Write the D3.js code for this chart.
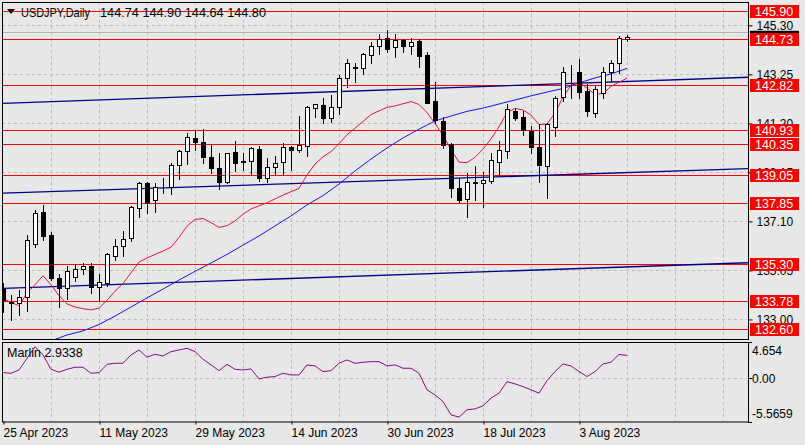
<!DOCTYPE html>
<html>
<head>
<meta charset="utf-8">
<script src="https://cdn.jsdelivr.net/npm/d3@7"></script>
<style>
  body { margin: 0; background: #e8e8e8; }
  text { font-family: "Liberation Sans", Arial, sans-serif; }
</style>
</head>
<body>
<div id="chart"></div>
<script>
// bar dates (index of the bar under each date label)
const dateIdx = [0, 12, 24, 36, 48, 60, 72];
const dateLabels = ["25 Apr 2023", "11 May 2023", "29 May 2023", "14 Jun 2023", "30 Jun 2023", "18 Jul 2023", "3 Aug 2023"];

const priceTicks = [145.30, 143.25, 141.20, 139.15, 137.10, 135.05, 133.00];
const levels = [145.90, 144.73, 142.82, 140.93, 140.35, 139.05, 137.85, 135.30, 133.78, 132.60];
const bidPrice = 144.80;
const askLine = 145.02;

// navy trend lines, price at bar 0 and at the right edge
const trendIdx = [0, 93.125];
const trendLines = [[142.04, 143.13], [138.28, 139.31], [134.30, 135.37]];

// daily candles
const opens = [134.27,133.75,133.68,133.94,136.14,137.48,136.53,134.72,134.30,134.79,135.10,135.25,134.34,134.51,135.67,136.08,136.39,137.65,138.69,137.99,
  138.58,138.55,139.46,140.06,140.58,140.41,139.81,139.32,138.76,139.99,139.60,139.64,140.12,138.90,139.36,139.60,140.20,140.09,140.25,141.83,
  141.97,141.44,141.87,143.08,143.52,143.50,144.06,144.45,144.76,144.38,144.69,144.45,144.66,144.06,142.15,141.31,140.34,138.49,138.03,138.72,
  138.70,138.80,139.60,140.06,141.73,141.45,140.90,140.23,139.43,141.06,142.29,143.32,143.34,142.57,141.62,142.46,143.36,143.71,144.74];
const highs = [134.52,134.02,134.23,136.53,137.58,137.79,136.67,134.90,135.25,135.31,135.35,135.35,134.90,135.77,136.35,136.70,137.75,138.76,138.76,138.69,
  138.90,139.53,140.09,140.79,140.92,140.95,140.34,139.95,139.97,140.46,139.95,140.23,140.25,139.74,139.84,140.37,140.25,141.51,141.93,142.01,
  142.25,142.39,143.22,143.88,143.74,144.16,144.62,144.94,145.11,144.94,144.72,144.76,144.72,144.20,142.94,141.48,140.39,138.93,139.14,139.42,
  139.18,139.97,140.48,142.01,141.83,141.73,141.09,141.17,141.20,142.35,143.57,143.65,143.88,142.85,142.76,143.57,143.85,144.85,144.90];
const lows = [133.31,132.98,133.19,133.36,136.05,136.32,134.65,133.51,133.86,134.62,134.90,134.12,133.78,134.40,135.49,135.67,136.29,137.30,137.44,137.51,
  138.28,138.24,138.86,139.49,140.09,139.56,139.14,138.44,138.69,139.22,139.25,139.04,138.80,138.76,139.04,139.04,139.25,140.00,139.84,141.45,
  141.23,141.27,141.59,142.73,142.94,143.27,143.74,144.10,144.20,143.99,144.20,144.09,143.57,142.05,141.20,140.16,138.13,137.93,137.27,138.00,
  137.72,138.72,139.08,139.74,141.35,140.71,139.97,138.76,138.07,140.67,142.15,142.25,142.25,141.51,141.48,142.25,142.99,143.29,144.64];
const closes = [133.81,133.68,133.93,136.32,137.46,136.50,134.72,134.30,135.04,135.10,135.24,134.34,134.55,135.74,136.08,136.35,137.69,138.69,137.88,138.55,
  138.60,139.46,140.04,140.62,140.43,139.78,139.32,138.76,139.95,139.56,139.62,140.16,138.90,139.36,139.56,140.20,140.09,140.30,141.87,142.00,
  141.44,141.87,143.08,143.71,143.54,144.10,144.45,144.72,144.30,144.69,144.45,144.62,144.02,142.07,141.34,140.30,138.49,138.00,138.76,138.74,
  138.83,139.67,140.09,141.79,141.44,140.92,140.23,139.46,141.17,142.25,143.34,143.30,142.52,141.73,142.63,143.36,143.74,144.76,144.80];

// fast moving average (red), one value per bar
const redMA = [133.90,133.70,133.58,134.10,134.45,134.83,134.45,134.00,133.65,133.52,133.45,133.40,133.47,133.80,134.18,134.50,134.95,135.40,135.57,135.72,
  135.86,136.02,136.43,136.90,137.18,137.22,137.05,136.85,136.92,137.12,137.40,137.62,137.75,137.88,138.04,138.20,138.34,138.48,139.04,139.50,
  139.80,140.02,140.35,140.72,141.00,141.28,141.57,141.72,141.87,141.93,142.02,142.11,141.99,141.65,141.20,140.70,140.10,139.58,139.56,139.78,
  140.12,140.55,141.06,141.66,141.82,141.76,141.55,141.15,141.17,141.63,142.30,142.78,142.94,142.67,142.42,142.45,142.75,142.92,143.09];

// slow moving average (blue), every second bar from bar 4
const blueStart = 4;
const blueMA = [131.93,132.10,132.35,132.52,132.79,133.14,133.52,133.90,134.27,134.65,135.01,135.36,135.72,136.11,136.49,136.91,137.33,137.79,138.18,
  138.66,139.21,139.71,140.17,140.59,140.96,141.30,141.51,141.70,141.84,142.01,142.18,142.35,142.51,142.66,142.89,143.10,143.27,143.50];

// Marlin oscillator, one value per bar
const marlin = [0.72,0.64,1.06,2.56,4.05,2.99,1.15,0.77,1.15,1.41,1.41,0.64,0.72,1.79,1.92,1.92,2.99,3.63,2.69,3.08,
  2.86,3.41,3.63,3.85,3.41,2.44,1.71,0.97,1.79,1.15,1.06,1.19,-0.09,0.13,0.21,0.64,0.42,0.42,1.71,1.58,
  0.85,0.97,1.92,2.35,1.92,2.05,2.13,2.13,1.58,1.71,1.28,1.28,0.64,-1.50,-2.14,-3.00,-4.71,-5.00,-4.06,-3.94,
  -3.55,-2.56,-1.92,-0.44,-0.73,-1.08,-1.50,-1.92,-0.31,0.85,1.83,1.58,0.85,0.21,0.85,1.83,2.05,3.05,2.93];
const marlinLast = "2.9338";
const marlinMax = 4.654, marlinMin = -5.5659;

const W = 805, H = 445;
const left = 2, right = 748;
const mainTop = 2, mainBottom = 339;
const indTop = 342, indBottom = 421.5;

const svg = d3.select("#chart").append("svg")
  .attr("width", W).attr("height", H)
  .style("background", "#e8e8e8");

const x = d3.scaleLinear().domain([0, 93.125]).range([3, 748]);
const y = d3.scaleLinear().domain([132.60, 145.90]).range([329, 11]);
const yi = d3.scaleLinear().domain([marlinMin, marlinMax]).range([indBottom, indTop]);

const px = v => Math.round(v) + 0.5;

const defs = svg.append("defs");
defs.append("clipPath").attr("id", "clipMain").append("rect")
  .attr("x", left).attr("y", mainTop).attr("width", right - left).attr("height", mainBottom - mainTop);
defs.append("clipPath").attr("id", "clipInd").append("rect")
  .attr("x", left).attr("y", indTop).attr("width", right - left).attr("height", indBottom - indTop);

const gridCol = "#bdbdbd";
const vGrid = d3.range(6, 93, 6);

// main panel
const main = svg.append("g").attr("clip-path", "url(#clipMain)");

main.selectAll(".vg").data(vGrid).enter().append("line")
  .attr("x1", d => px(x(d))).attr("x2", d => px(x(d)))
  .attr("y1", mainTop).attr("y2", mainBottom)
  .attr("stroke", gridCol).attr("stroke-dasharray", "3,3");
main.selectAll(".hg").data(priceTicks).enter().append("line")
  .attr("x1", left).attr("x2", right)
  .attr("y1", d => px(y(d))).attr("y2", d => px(y(d)))
  .attr("stroke", gridCol).attr("stroke-dasharray", "3,3");

main.append("line")
  .attr("x1", left).attr("x2", right)
  .attr("y1", px(y(askLine))).attr("y2", px(y(askLine)))
  .attr("stroke", "#b4b4b4");

main.selectAll(".lvl").data(levels).enter().append("line")
  .attr("x1", left).attr("x2", right)
  .attr("y1", d => px(y(d))).attr("y2", d => px(y(d)))
  .attr("stroke", "#ff0000").attr("stroke-width", 1);

main.selectAll(".trend").data(trendLines).enter().append("line")
  .attr("x1", x(trendIdx[0])).attr("x2", x(trendIdx[1]))
  .attr("y1", d => y(d[0])).attr("y2", d => y(d[1]))
  .attr("stroke", "#000088").attr("stroke-width", 1.3);

const maLine = d3.line().x(d => x(d[0])).y(d => y(d[1]));
main.append("path")
  .datum(blueMA.map((v, k) => [blueStart + 2 * k, v]))
  .attr("d", maLine).attr("fill", "none")
  .attr("stroke", "#1414ff").attr("stroke-width", 1);
main.append("path")
  .datum(redMA.map((v, i) => [i, v]))
  .attr("d", maLine).attr("fill", "none")
  .attr("stroke", "#e8143c").attr("stroke-width", 1);

// candles
const bars = opens.map((o, i) => ({ i, o, h: highs[i], l: lows[i], c: closes[i] }));
const candle = main.selectAll(".candle").data(bars).enter().append("g")
  .attr("shape-rendering", "crispEdges");
candle.append("line")
  .attr("x1", d => px(x(d.i))).attr("x2", d => px(x(d.i)))
  .attr("y1", d => Math.round(y(d.h))).attr("y2", d => Math.round(y(d.l)) + 1)
  .attr("stroke", "#000");
candle.append("rect")
  .attr("x", d => px(x(d.i)) - 2)
  .attr("width", 4)
  .attr("y", d => px(y(Math.max(d.o, d.c))))
  .attr("height", d => Math.max(0, Math.round(y(Math.min(d.o, d.c))) - Math.round(y(Math.max(d.o, d.c)))))
  .attr("fill", d => d.c >= d.o ? "#ffffff" : "#000000")
  .attr("stroke", "#000");

// indicator panel
const ind = svg.append("g").attr("clip-path", "url(#clipInd)");
ind.selectAll(".vg").data(vGrid).enter().append("line")
  .attr("x1", d => px(x(d))).attr("x2", d => px(x(d)))
  .attr("y1", indTop).attr("y2", indBottom)
  .attr("stroke", gridCol).attr("stroke-dasharray", "3,3");
ind.append("line")
  .attr("x1", left).attr("x2", right)
  .attr("y1", px(yi(0))).attr("y2", px(yi(0)))
  .attr("stroke", gridCol).attr("stroke-dasharray", "3,3");
ind.append("path")
  .datum(marlin)
  .attr("d", d3.line().x((d, i) => x(i)).y(d => yi(d)))
  .attr("fill", "none").attr("stroke", "#8b0a8b").attr("stroke-width", 1);

// panel borders
svg.append("rect").attr("x", left + 0.5).attr("y", mainTop + 0.5)
  .attr("width", right - left).attr("height", mainBottom - mainTop)
  .attr("fill", "none").attr("stroke", "#000");
svg.append("rect").attr("x", left + 0.5).attr("y", indTop + 0.5)
  .attr("width", right - left).attr("height", indBottom - indTop)
  .attr("fill", "none").attr("stroke", "#000");

// price axis
const yAxis = d3.axisRight(y).tickValues(priceTicks).tickFormat(d3.format(".2f"))
  .tickSize(4).tickPadding(4);
const yAxisG = svg.append("g").attr("transform", `translate(${right + 0.5},0)`).call(yAxis);
yAxisG.select(".domain").remove();
yAxisG.selectAll("text").attr("font-size", 12).attr("fill", "#000")
  .style("font-family", "'Liberation Sans', Arial, sans-serif");

// current bid marker (hidden behind the level labels except its top edge)
svg.append("rect").attr("x", right + 2).attr("y", y(bidPrice) - 6.5)
  .attr("width", 49).attr("height", 13).attr("fill", "#000");

// level labels
const lab = svg.selectAll(".lab").data(levels).enter().append("g");
lab.append("rect")
  .attr("x", right + 2).attr("y", d => Math.round(y(d)) - 6)
  .attr("width", 49).attr("height", 13).attr("fill", "#ff0000");
lab.append("text")
  .attr("x", right + 7).attr("y", d => Math.round(y(d)) + 5)
  .attr("font-size", 12.5).attr("fill", "#fff").text(d => d.toFixed(2));

// indicator axis labels
const indLabels = [
  { v: marlinMax, t: "4.654", ty: indTop + 13 },
  { v: 0, t: "0.00", ty: yi(0) + 4.5 },
  { v: marlinMin, t: "-5.5659", ty: indBottom - 4 }
];
svg.selectAll(".il").data(indLabels).enter().append("line")
  .attr("x1", right).attr("x2", right + 4)
  .attr("y1", d => px(yi(d.v))).attr("y2", d => px(yi(d.v)))
  .attr("stroke", "#000");
svg.selectAll(".it").data(indLabels).enter().append("text")
  .attr("x", right + 4).attr("y", d => d.ty)
  .attr("font-size", 12).attr("fill", "#000").text(d => d.t);

// date axis
const xAxis = d3.axisBottom(x).tickValues(dateIdx).tickFormat((d, k) => dateLabels[k])
  .tickSize(3).tickPadding(4);
const xAxisG = svg.append("g").attr("transform", `translate(0,${indBottom})`).call(xAxis);
xAxisG.select(".domain").remove();
xAxisG.selectAll(".tick line").attr("transform", "translate(0.5,0)");
xAxisG.selectAll("text").attr("text-anchor", "start").attr("dy", "0.71em")
  .attr("font-size", 12).attr("fill", "#000")
  .style("font-family", "'Liberation Sans', Arial, sans-serif");

// header
svg.append("path").attr("d", "M7,9 L15,9 L11,14 Z").attr("fill", "#000");
svg.append("text").attr("x", 21).attr("y", 17).attr("font-size", 12.5)
  .attr("textLength", 69).attr("lengthAdjust", "spacingAndGlyphs")
  .attr("fill", "#000").text("USDJPY,Daily");
svg.append("text").attr("x", 100).attr("y", 17).attr("font-size", 12.8)
  .attr("textLength", 166).attr("lengthAdjust", "spacingAndGlyphs")
  .attr("fill", "#000").text([opens[78], highs[78], lows[78], closes[78]].map(v => v.toFixed(2)).join(" "));

svg.append("text").attr("x", 7).attr("y", 357).attr("font-size", 12.5)
  .attr("fill", "#000").text("Marlin " + marlinLast);
</script>
</body>
</html>
